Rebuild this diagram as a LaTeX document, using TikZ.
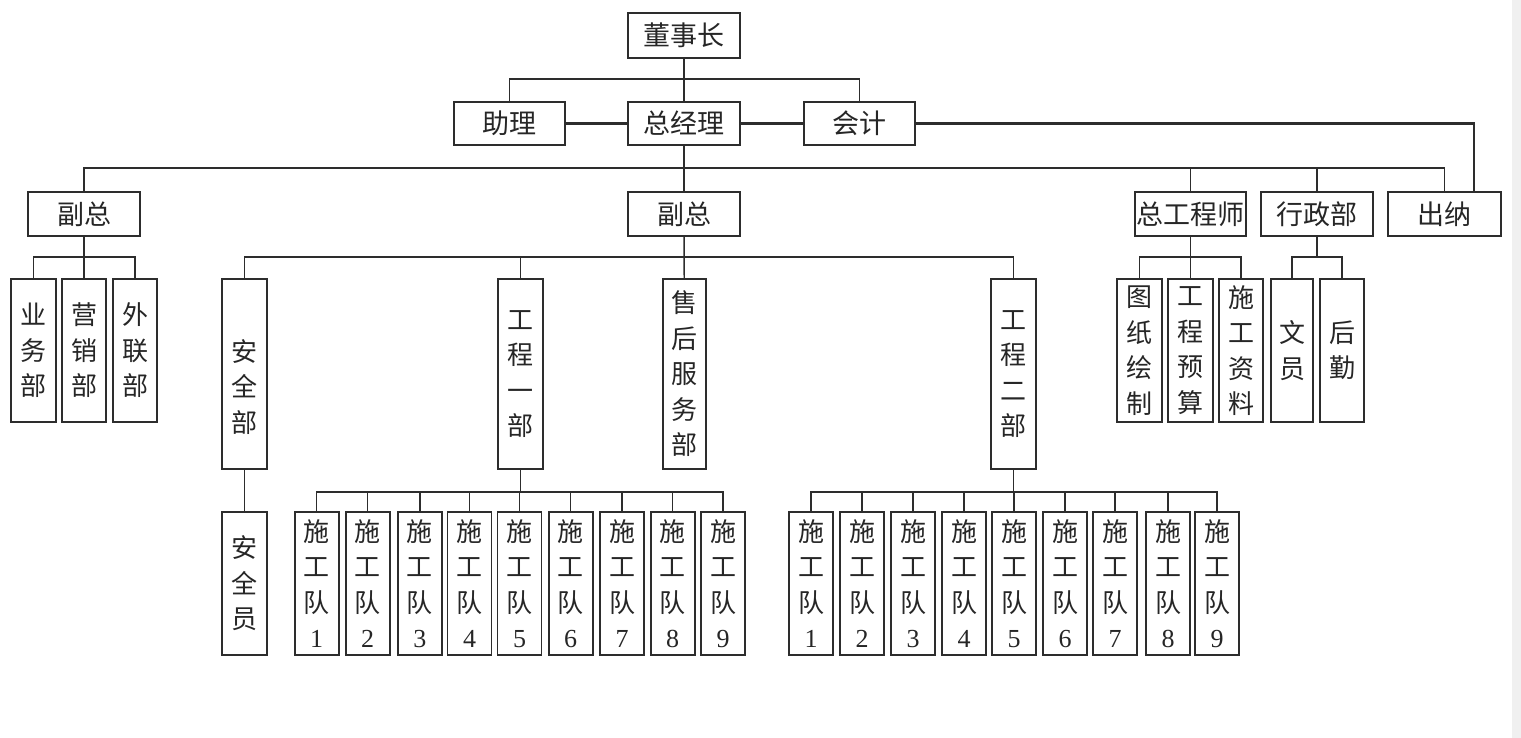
\documentclass[tikz,border=0pt]{standalone}
\usepackage{fontspec}
\newfontfamily\cjk{Noto Sans CJK SC}
\newfontfamily\numf{Liberation Serif}
\definecolor{ln}{RGB}{45,45,45}
\newcommand\mkbox[6]{\node[box, minimum width={#4-#2}, minimum height={#5-#3}] (#1) at ({(#2+#4)/2},{(#3+#5)/2}) {#6};}
\begin{document}
\begin{tikzpicture}[x=1pt,y=-1pt,
  box/.style={draw=ln, line width=1.8pt, inner sep=0pt, font=\cjk\fontsize{26}{35.5}\selectfont, align=center, text=black!85},
  hbox/.style={box, font=\cjk\fontsize{27}{32}\selectfont},
  vtext/.style={inner sep=0pt, font=\cjk\fontsize{26}{35.5}\selectfont, align=center, text=black!85},
  conn/.style={draw=ln, line width=1.4pt},
  thickconn/.style={draw=ln, line width=2.8pt}]
\useasboundingbox (0,0) rectangle (1521,738);
\fill[white] (0,0) rectangle (1521,738);
\fill[gray!12] (1512,0) rectangle (1521,738);
\tikzset{box/.append style={}}
% level 1-2
\begin{scope}[box/.append style={font=\cjk\fontsize{27}{32}\selectfont}]
\mkbox{dsz}{628}{13}{740}{58}{董事长}
\mkbox{zl}{454}{102}{565}{145}{助理}
\mkbox{zjl}{628}{102}{740}{145}{总经理}
\mkbox{kj}{804}{102}{915}{145}{会计}
% level 3
\mkbox{fz1}{28}{192}{140}{236}{副总}
\mkbox{fz2}{628}{192}{740}{236}{副总}
\mkbox{zgcs}{1135}{192}{1246}{236}{总工程师}
\mkbox{xzb}{1261}{192}{1373}{236}{行政部}
\mkbox{cn}{1388}{192}{1501}{236}{出纳}
\end{scope}
% level 4
\mkbox{ywb}{11}{279}{56}{422}{业\\务\\部}
\mkbox{yxb}{62}{279}{106}{422}{营\\销\\部}
\mkbox{wlb}{113}{279}{157}{422}{外\\联\\部}
\mkbox{aqb}{222}{279}{267}{469}{}
\node[vtext] (aqbt) at (244.5,387) {安\\全\\部};
\mkbox{gc1}{498}{279}{543}{469}{工\\程\\一\\部}
\mkbox{shb}{663}{279}{706}{469}{售\\后\\服\\务\\部}
\mkbox{gc2}{991}{279}{1036}{469}{工\\程\\二\\部}
\mkbox{tz}{1117}{279}{1162}{422}{图\\纸\\绘\\制}
\mkbox{ys}{1168}{279}{1213}{422}{工\\程\\预\\算}
\mkbox{zl2}{1219}{279}{1263}{422}{施\\工\\资\\料}
\mkbox{wy}{1271}{279}{1313}{422}{文\\员}
\mkbox{hq}{1320}{279}{1364}{422}{后\\勤}
% level 5
\mkbox{aqy}{222}{512}{267}{655}{安\\全\\员}
\foreach \l [count=\i] in {294.6,345.7,397.8,447.5,497.5,548.6,600,650.6,701}{
  \mkbox{ta\i}{\l}{512}{\l+44}{655}{施\\工\\队\\{\numf\i}}
}
\foreach \l [count=\i] in {789,840,891,942,992,1043,1093,1146,1195}{
  \mkbox{tb\i}{\l}{512}{\l+44}{655}{施\\工\\队\\{\numf\i}}
}
% connectors
\coordinate (b1) at (684,79);
\coordinate (b2) at (684,168);
\coordinate (b3) at (84,257);
\coordinate (b4) at (684,257);
\coordinate (b5) at (1191,257);
\coordinate (b6) at (1317,257);
\coordinate (b7) at (520.5,492);
\coordinate (b8) at (1013.5,492);
\draw[conn] (dsz) -- (zjl);
\draw[conn] (zl.north) |- (b1) -| (kj.north);
\draw[thickconn] (zl) -- (zjl);
\draw[thickconn] (zjl) -- (kj);
\draw[thickconn] (kj.east) -| ([xshift=29.5pt]cn.north);
\draw[conn] (zjl) -- (fz2);
\draw[conn] (fz1.north) |- (b2) -| (cn.north);
\draw[conn] (zgcs.north) -- (zgcs.north |- b2);
\draw[conn] (xzb.north) -- (xzb.north |- b2);
\draw[conn] (fz1) -- (yxb);
\draw[conn] (ywb.north) |- (b3) -| (wlb.north);
\draw[conn] (fz2) -- (shb);
\draw[conn] (aqb.north) |- (b4) -| (gc2.north);
\draw[conn] (gc1.north) -- (gc1.north |- b4);
\draw[conn] (zgcs) -- (ys);
\draw[conn] (tz.north) |- (b5) -| (zl2.north);
\draw[conn] (xzb.south) -- (b6);
\draw[conn] (wy.north) |- (b6) -| (hq.north);
\draw[conn] (aqb) -- (aqy);
\draw[conn] (gc1.south) -- (b7);
\draw[conn] (ta1.north) |- (b7) -| (ta9.north);
\foreach \i in {2,...,8}{\draw[conn] (ta\i.north) -- (ta\i.north |- b7);}
\draw[conn] (gc2.south) -- (b8);
\draw[conn] (tb1.north) |- (b8) -| (tb9.north);
\foreach \i in {2,...,8}{\draw[conn] (tb\i.north) -- (tb\i.north |- b8);}
\end{tikzpicture}
\end{document}
